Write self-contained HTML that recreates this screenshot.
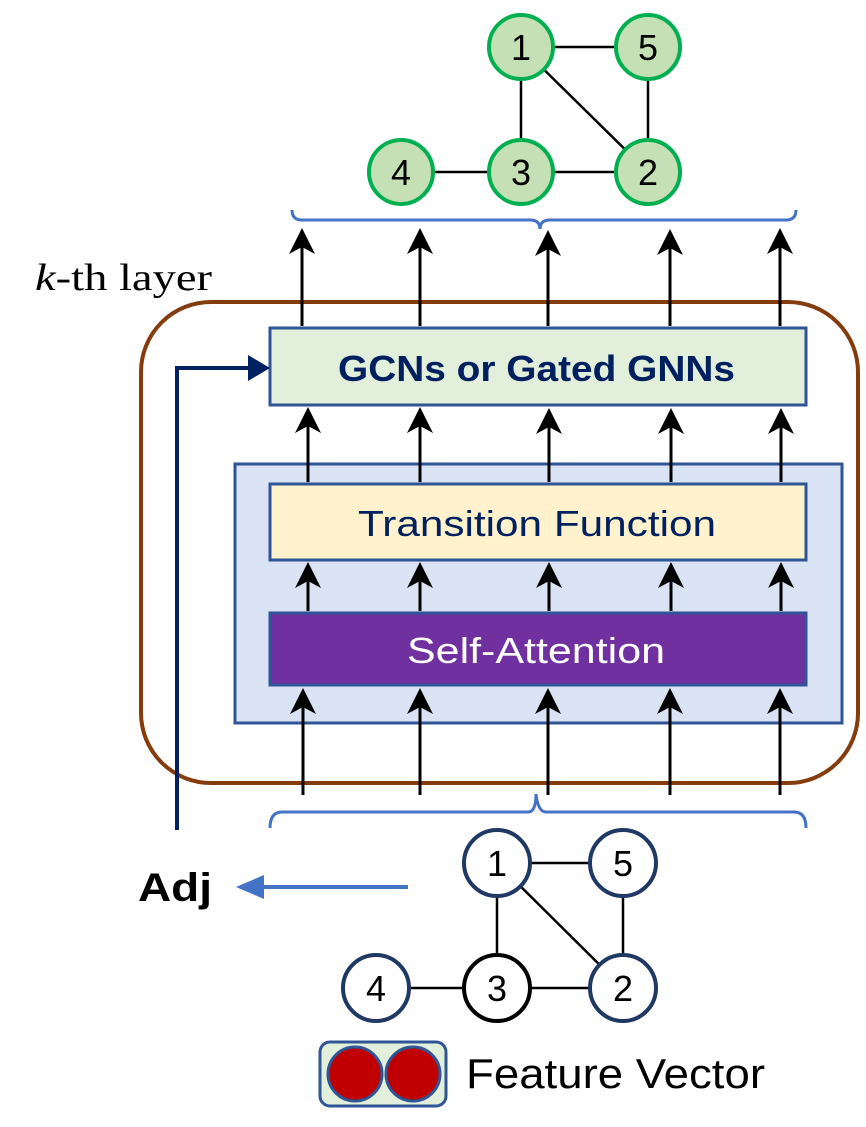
<!DOCTYPE html>
<html><head><style>body{margin:0;background:#fff}svg{display:block}</style></head><body>
<svg width="866" height="1127" viewBox="0 0 866 1127" xmlns="http://www.w3.org/2000/svg">
<!-- top graph edges -->
<g stroke="#000" stroke-width="2.5">
<line x1="521" y1="47" x2="648" y2="47"/><line x1="521" y1="47" x2="521" y2="172"/>
<line x1="521" y1="47" x2="648" y2="172"/><line x1="648" y1="47" x2="648" y2="172"/>
<line x1="401" y1="172" x2="648" y2="172"/>
</g>
<g fill="#c5e0b4" stroke="#00b050" stroke-width="4">
<circle cx="521" cy="47" r="32"/><circle cx="648" cy="47" r="32"/>
<circle cx="401" cy="172" r="32"/><circle cx="521" cy="172" r="32"/><circle cx="648" cy="172" r="32"/>
</g>
<g font-family="Liberation Sans, sans-serif" font-size="36" text-anchor="middle" fill="#000">
<text x="521" y="60">1</text><text x="648" y="60">5</text><text x="401" y="185">4</text><text x="521" y="185">3</text><text x="648" y="185">2</text>
</g>
<!-- top brace -->
<path d="M292 210 Q292 220 302 220 L530 220 Q540 220 540 229 Q540 220 550 220 L786 220 Q796 220 796 210" fill="none" stroke="#4472c4" stroke-width="3"/>
<text x="35" y="290" font-family="Liberation Serif, serif" font-size="38" textLength="177" lengthAdjust="spacingAndGlyphs"><tspan font-style="italic">k</tspan>-th layer</text>
<!-- layer box -->
<rect x="141" y="302" width="717" height="481" rx="70" fill="none" stroke="#843c0c" stroke-width="4"/>
<rect x="235" y="464" width="607" height="259" fill="#dae3f3" stroke="#2f5597" stroke-width="3"/>
<rect x="270" y="328" width="536" height="77" fill="#e2efda" stroke="#2f5597" stroke-width="3"/>
<text x="338" y="381" font-family="Liberation Sans, sans-serif" font-weight="bold" font-size="36" fill="#002060" textLength="397" lengthAdjust="spacingAndGlyphs">GCNs or Gated GNNs</text>
<rect x="270" y="484" width="536" height="76" fill="#fff2cc" stroke="#2f5597" stroke-width="3"/>
<text x="358" y="536" font-family="Liberation Sans, sans-serif" font-size="36" fill="#002060" textLength="358" lengthAdjust="spacingAndGlyphs">Transition Function</text>
<rect x="270" y="613" width="536" height="72" fill="#7030a0" stroke="#2f5597" stroke-width="3"/>
<text x="407" y="663" font-family="Liberation Sans, sans-serif" font-size="36" fill="#fff" textLength="258" lengthAdjust="spacingAndGlyphs">Self-Attention</text>
<!-- arrows -->
<g stroke="#000" stroke-width="3">
<line x1="302" y1="326" x2="302" y2="245"/><line x1="420" y1="326" x2="420" y2="245"/><line x1="548" y1="326" x2="548" y2="245"/><line x1="670" y1="326" x2="670" y2="245"/><line x1="780" y1="326" x2="780" y2="245"/>
<line x1="308" y1="482" x2="308" y2="422"/><line x1="420" y1="482" x2="420" y2="422"/><line x1="549" y1="482" x2="549" y2="422"/><line x1="671" y1="482" x2="671" y2="422"/><line x1="781" y1="482" x2="781" y2="422"/>
<line x1="308" y1="611" x2="308" y2="578"/><line x1="420" y1="611" x2="420" y2="578"/><line x1="549" y1="611" x2="549" y2="578"/><line x1="671" y1="611" x2="671" y2="578"/><line x1="781" y1="611" x2="781" y2="578"/>
<line x1="303" y1="795" x2="303" y2="705"/><line x1="420" y1="795" x2="420" y2="705"/><line x1="548" y1="795" x2="548" y2="705"/><line x1="670" y1="795" x2="670" y2="705"/><line x1="780" y1="795" x2="780" y2="705"/>
</g>
<g fill="#000">
<path d="M302 228 L289 254 L302 247 L315 254Z"/><path d="M420 228 L407 254 L420 247 L433 254Z"/><path d="M548 230 L535 256 L548 249 L561 256Z"/><path d="M670 229 L657 255 L670 248 L683 255Z"/><path d="M780 228 L767 254 L780 247 L793 254Z"/>
<path d="M308 407 L295 433 L308 426 L321 433Z"/><path d="M420 407 L407 433 L420 426 L433 433Z"/><path d="M549 408 L536 434 L549 427 L562 434Z"/><path d="M671 408 L658 434 L671 427 L684 434Z"/><path d="M781 408 L768 434 L781 427 L794 434Z"/>
<path d="M308 562 L295 588 L308 581 L321 588Z"/><path d="M420 562 L407 588 L420 581 L433 588Z"/><path d="M549 562 L536 588 L549 581 L562 588Z"/><path d="M671 562 L658 588 L671 581 L684 588Z"/><path d="M781 562 L768 588 L781 581 L794 588Z"/>
<path d="M303 688 L290 714 L303 707 L316 714Z"/><path d="M420 688 L407 714 L420 707 L433 714Z"/><path d="M548 688 L535 714 L548 707 L561 714Z"/><path d="M670 688 L657 714 L670 707 L683 714Z"/><path d="M780 688 L767 714 L780 707 L793 714Z"/>
</g>
<!-- Adj connector -->
<path d="M177 830 L177 368 L252 368" fill="none" stroke="#002060" stroke-width="4"/>
<path d="M270 368 L248 355 L248 381Z" fill="#002060"/>
<!-- bottom brace -->
<path d="M270 828 Q270 812 282 812 L528 812 Q536 812 536 794 Q538 812 546 812 L794 812 Q806 812 806 828" fill="none" stroke="#4472c4" stroke-width="3"/>
<text x="138" y="901" font-family="Liberation Sans, sans-serif" font-weight="bold" font-size="40" textLength="74" lengthAdjust="spacingAndGlyphs">Adj</text>
<line x1="408" y1="887" x2="256" y2="887" stroke="#4472c4" stroke-width="4"/>
<path d="M236 887 L264 875 L264 899Z" fill="#4472c4"/>
<!-- bottom graph -->
<g stroke="#000" stroke-width="2.5">
<line x1="497" y1="863" x2="623" y2="863"/><line x1="497" y1="863" x2="497" y2="988"/>
<line x1="497" y1="863" x2="623" y2="988"/><line x1="623" y1="863" x2="623" y2="988"/>
<line x1="376" y1="988" x2="623" y2="988"/>
</g>
<g fill="#fff" stroke="#203864" stroke-width="4">
<circle cx="497" cy="863" r="33"/><circle cx="623" cy="863" r="33"/>
<circle cx="376" cy="988" r="33"/><circle cx="497" cy="988" r="33" stroke="#000"/><circle cx="623" cy="988" r="33"/>
</g>
<g font-family="Liberation Sans, sans-serif" font-size="36" text-anchor="middle" fill="#000">
<text x="497" y="876">1</text><text x="623" y="876">5</text><text x="376" y="1001">4</text><text x="497" y="1001">3</text><text x="623" y="1001">2</text>
</g>
<rect x="320" y="1042" width="126" height="64" rx="10" fill="#e2efda" stroke="#2f5597" stroke-width="3"/>
<circle cx="355" cy="1074" r="27" fill="#c00000" stroke="#2f5597" stroke-width="3"/>
<circle cx="413" cy="1074" r="27" fill="#c00000" stroke="#2f5597" stroke-width="3"/>
<text x="466" y="1088" font-family="Liberation Sans, sans-serif" font-size="42" textLength="299" lengthAdjust="spacingAndGlyphs">Feature Vector</text>
</svg>
</body></html>
